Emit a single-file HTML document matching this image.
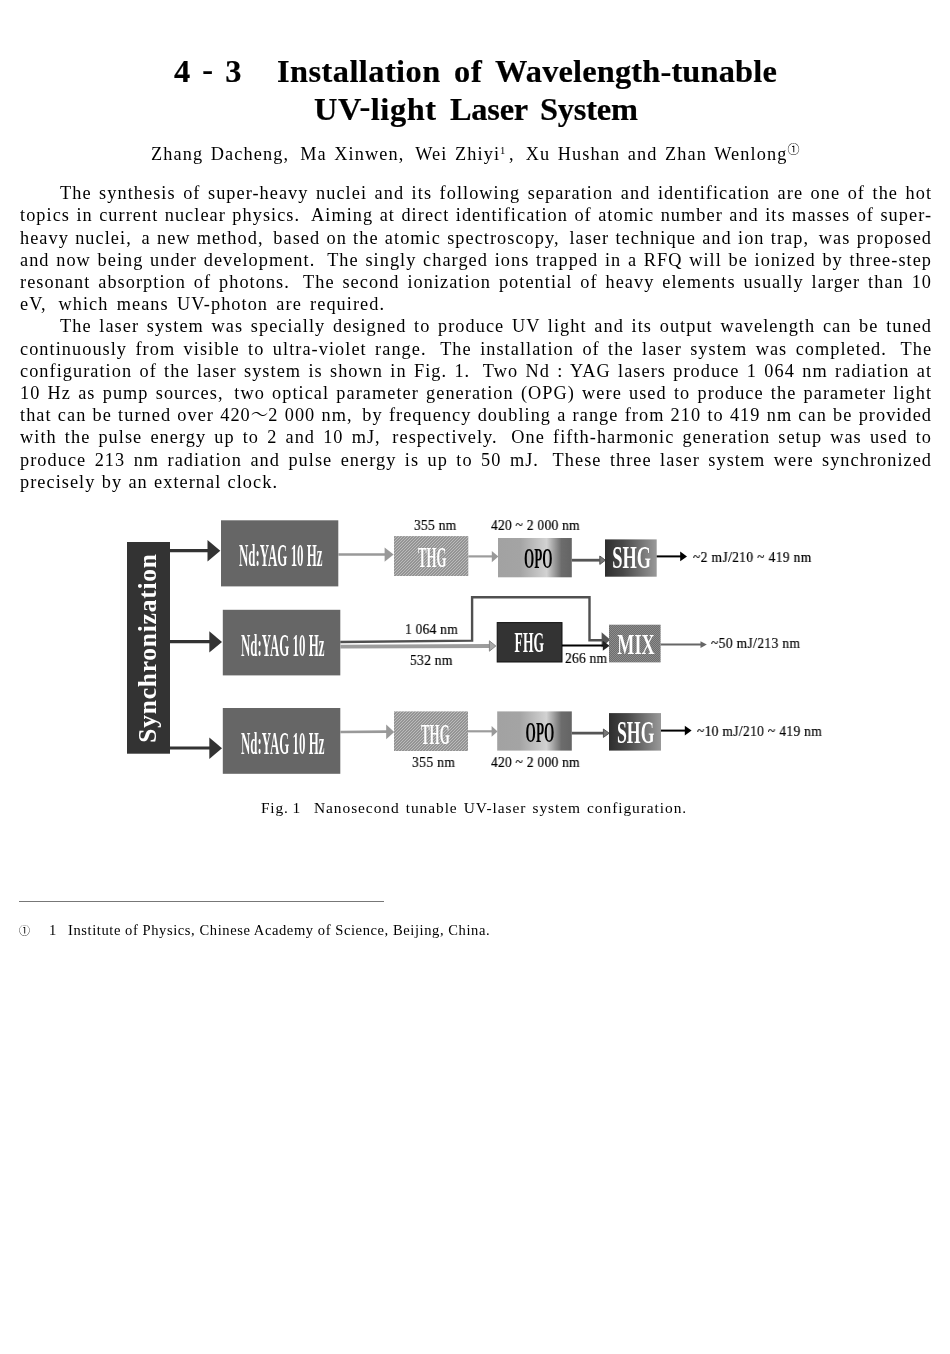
<!DOCTYPE html>
<html lang="en"><head><meta charset="utf-8"><title>Installation of Wavelength-tunable UV-light Laser System</title>
<style>
html,body{margin:0;padding:0;background:#fff;}
body{width:950px;height:1354px;position:relative;overflow:hidden;font-family:"Liberation Serif", "Noto Serif CJK SC", serif;color:#000;}
h1,p,figure,figcaption,footer,article{margin:0;padding:0;font-size:inherit;font-weight:inherit;display:block;}
.l{display:block;position:absolute;white-space:nowrap;line-height:1;margin:0;transform-origin:0 80%;will-change:transform;}
.l sup{font-size:58%;vertical-align:baseline;position:relative;top:-0.55em;letter-spacing:0;}
.l sup.c{font-size:66%;top:-0.52em;margin-left:0;color:#000;font-family:"Noto Sans CJK SC","DejaVu Sans",sans-serif;}
.c2{font-family:"Noto Sans CJK SC","DejaVu Sans",sans-serif;font-size:76%;}
.gc{display:inline-block;width:3.5px;}
.gp{display:inline-block;width:5.5px;}
.hy{position:relative;top:-0.05em;font-weight:inherit;}
.hy2{position:relative;top:-0.08em;font-weight:inherit;}
.ft{font-family:"Noto Serif CJK SC","Noto Sans CJK SC",serif;letter-spacing:0;font-size:96%;}
.fl{-webkit-text-stroke:0.2px #000;z-index:2;}
.tt{-webkit-text-stroke:0.2px #000;}
.rule{position:absolute;left:19px;top:901px;width:365px;height:1px;background:#777;}
svg{position:absolute;left:0;top:0;will-change:transform;}
</style></head>
<body>
<article>
<h1>
<span class="l tt" style="left:173.6px;top:55.40px;font-size:32.4px;letter-spacing:0.3px;word-spacing:3.397px;font-weight:700;transform:scale(1.0,1.004);">4 <b class="hy">-</b> 3</span>
<span class="l tt" style="left:277.4px;top:55.40px;font-size:32.4px;letter-spacing:0.436px;word-spacing:0.000px;font-weight:700;transform:scale(1.0,1.004);">Installation</span>
<span class="l tt" style="left:453.8px;top:55.40px;font-size:32.4px;letter-spacing:0.816px;word-spacing:0.000px;font-weight:700;transform:scale(1.0,1.004);">of</span>
<span class="l tt" style="left:495.0px;top:55.40px;font-size:32.4px;letter-spacing:0.167px;word-spacing:0.000px;font-weight:700;transform:scale(1.0,1.004);">Wavelength-tunable</span>
<span class="l tt" style="left:314.4px;top:92.80px;font-size:32.4px;letter-spacing:0.545px;word-spacing:0.000px;font-weight:700;transform:scale(1.0,1.004);">UV<b class="hy2">-</b>light</span>
<span class="l tt" style="left:450.0px;top:92.80px;font-size:32.4px;letter-spacing:-0.243px;word-spacing:0.000px;font-weight:700;transform:scale(1.0,1.004);">Laser</span>
<span class="l tt" style="left:539.6px;top:92.80px;font-size:32.4px;letter-spacing:-0.194px;word-spacing:0.000px;font-weight:700;transform:scale(1.0,1.004);">System</span>
</h1>
<p class="authors">
<span class="l" style="left:151.0px;top:145.49px;font-size:18.3px;letter-spacing:1.1px;word-spacing:1.883px;font-weight:400;transform:scale(1.0,1.03);">Zhang Dacheng,<i class="gc"></i> Ma Xinwen,<i class="gc"></i> Wei Zhiyi<sup>1</sup><i class="gc"></i>,<i class="gc"></i> Xu Hushan and Zhan Wenlong<sup class="c">①</sup></span>
</p>
<p>
<span class="l" style="left:60px;top:184.29px;font-size:18.3px;letter-spacing:1.05px;word-spacing:1.913px;font-weight:400;transform:scale(1.0,1.03);">The synthesis of super-heavy nuclei and its following separation and identification are one of the hot</span>
<span class="l" style="left:20px;top:206.49px;font-size:18.3px;letter-spacing:1.05px;word-spacing:0.825px;font-weight:400;transform:scale(1.0,1.03);">topics in current nuclear physics.<i class="gp"></i> Aiming at direct identification of atomic number and its masses of super-</span>
<span class="l" style="left:20px;top:228.69px;font-size:18.3px;letter-spacing:1.05px;word-spacing:0.641px;font-weight:400;transform:scale(1.0,1.03);">heavy nuclei,<i class="gc"></i> a new method,<i class="gc"></i> based on the atomic spectroscopy,<i class="gc"></i> laser technique and ion trap,<i class="gc"></i> was proposed</span>
<span class="l" style="left:20px;top:250.89px;font-size:18.3px;letter-spacing:1.05px;word-spacing:1.072px;font-weight:400;transform:scale(1.0,1.03);">and now being under development.<i class="gp"></i> The singly charged ions trapped in a RFQ will be ionized by three-step</span>
<span class="l" style="left:20px;top:273.09px;font-size:18.3px;letter-spacing:1.05px;word-spacing:2.278px;font-weight:400;transform:scale(1.0,1.03);">resonant absorption of photons.<i class="gp"></i> The second ionization potential of heavy elements usually larger than 10</span>
<span class="l" style="left:20px;top:295.29px;font-size:18.3px;letter-spacing:1.05px;word-spacing:2.688px;font-weight:400;transform:scale(1.0,1.03);">eV,<i class="gc"></i> which means UV-photon are required.</span>
</p>
<p>
<span class="l" style="left:60px;top:317.49px;font-size:18.3px;letter-spacing:1.05px;word-spacing:2.083px;font-weight:400;transform:scale(1.0,1.03);">The laser system was specially designed to produce UV light and its output wavelength can be tuned</span>
<span class="l" style="left:20px;top:339.69px;font-size:18.3px;letter-spacing:1.05px;word-spacing:2.792px;font-weight:400;transform:scale(1.0,1.03);">continuously from visible to ultra-violet range.<i class="gp"></i> The installation of the laser system was completed.<i class="gp"></i> The</span>
<span class="l" style="left:20px;top:361.89px;font-size:18.3px;letter-spacing:1.05px;word-spacing:1.700px;font-weight:400;transform:scale(1.0,1.03);">configuration of the laser system is shown in Fig. 1.<i class="gp"></i> Two Nd : YAG lasers produce 1 064 nm radiation at</span>
<span class="l" style="left:20px;top:384.09px;font-size:18.3px;letter-spacing:1.05px;word-spacing:1.579px;font-weight:400;transform:scale(1.0,1.03);">10 Hz as pump sources,<i class="gc"></i> two optical parameter generation (OPG) were used to produce the parameter light</span>
<span class="l" style="left:20px;top:405.28px;font-size:18.3px;letter-spacing:1.05px;word-spacing:0.586px;font-weight:400;transform:scale(1.0,1.03);">that can be turned over 420<span class="ft">～</span>2 000 nm,<i class="gc"></i> by frequency doubling a range from 210 to 419 nm can be provided</span>
<span class="l" style="left:20px;top:428.49px;font-size:18.3px;letter-spacing:1.05px;word-spacing:2.501px;font-weight:400;transform:scale(1.0,1.03);">with the pulse energy up to 2 and 10 mJ,<i class="gc"></i> respectively.<i class="gp"></i> One fifth-harmonic generation setup was used to</span>
<span class="l" style="left:20px;top:450.69px;font-size:18.3px;letter-spacing:1.05px;word-spacing:2.812px;font-weight:400;transform:scale(1.0,1.03);">produce 213 nm radiation and pulse energy is up to 50 mJ.<i class="gp"></i> These three laser system were synchronized</span>
<span class="l" style="left:20px;top:472.89px;font-size:18.3px;letter-spacing:1.05px;word-spacing:0.665px;font-weight:400;transform:scale(1.0,1.03);">precisely by an external clock.</span>
</p>
<figure>
<svg width="950" height="1354" viewBox="0 0 950 1354">
<defs>
<pattern id="hatch" width="3" height="3" patternUnits="userSpaceOnUse">
<rect width="3" height="3" fill="#949494"/>
<path d="M-1 1L1 -1M0 3L3 0M2 4L4 2" stroke="#c2c2c2" stroke-width="0.85"/>
</pattern>
<pattern id="dots" width="2" height="2" patternUnits="userSpaceOnUse">
<rect width="2" height="2" fill="#6e6e6e"/>
<rect width="1" height="1" fill="#8c8c8c"/><rect x="1" y="1" width="1" height="1" fill="#8c8c8c"/>
</pattern>
<linearGradient id="gopo" x1="0" x2="1" y1="0" y2="0">
<stop offset="0" stop-color="#a2a2a2"/><stop offset="0.3" stop-color="#a4a4a4"/><stop offset="0.66" stop-color="#d2d2d2"/><stop offset="0.86" stop-color="#6c6c6c"/><stop offset="1" stop-color="#646464"/>
</linearGradient>
<linearGradient id="gshg" x1="0" x2="1" y1="0" y2="0">
<stop offset="0" stop-color="#2e2e2e"/><stop offset="0.35" stop-color="#484848"/><stop offset="1" stop-color="#999"/>
</linearGradient>
</defs>
<rect x="127.0" y="542.0" width="43.0" height="211.7" fill="#333"/>
<text transform="translate(155.8 742.7) rotate(-90)" font-family='"Liberation Serif", serif' font-size="25.5" font-weight="700" fill="#fff" textLength="188.7" lengthAdjust="spacing">Synchronization</text>
<path d="M170.0 550.6L208.5 550.6" fill="none" stroke="#333" stroke-width="3.2"/>
<polygon points="207.5,540.1 220.3,550.8 207.5,561.5" fill="#333"/>
<path d="M170.0 641.7L210.3 641.7" fill="none" stroke="#333" stroke-width="3.2"/>
<polygon points="209.3,631.2 222.0,641.9 209.3,652.6" fill="#333"/>
<path d="M170.0 748.0L210.3 748.0" fill="none" stroke="#333" stroke-width="3.2"/>
<polygon points="209.3,737.5 222.0,748.2 209.3,758.9" fill="#333"/>
<rect x="221.0" y="520.3" width="117.3" height="66.1" fill="#666"/>
<rect x="222.8" y="609.8" width="117.5" height="65.6" fill="#666"/>
<rect x="222.8" y="708.0" width="117.5" height="65.8" fill="#666"/>
<text x="239.0" y="566.2" font-family='"Liberation Serif", serif' font-size="32" font-weight="700" fill="#fff" textLength="83.6" lengthAdjust="spacingAndGlyphs" style="filter:drop-shadow(0.8px 0.6px 0 #3a3a3a)">Nd:YAG 10 Hz</text>
<text x="241.0" y="656.0" font-family='"Liberation Serif", serif' font-size="32" font-weight="700" fill="#fff" textLength="83.5" lengthAdjust="spacingAndGlyphs" style="filter:drop-shadow(0.8px 0.6px 0 #3a3a3a)">Nd:YAG 10 Hz</text>
<text x="241.0" y="753.6" font-family='"Liberation Serif", serif' font-size="32" font-weight="700" fill="#fff" textLength="83.5" lengthAdjust="spacingAndGlyphs" style="filter:drop-shadow(0.8px 0.6px 0 #3a3a3a)">Nd:YAG 10 Hz</text>
<path d="M338.3 554.5L386.0 554.5" fill="none" stroke="#999" stroke-width="2.7"/>
<polygon points="384.6,547.4 393.6,554.6 384.6,561.8" fill="#999"/>
<rect x="394.0" y="536.1" width="74.3" height="39.9" fill="url(#hatch)"/>
<text x="418.0" y="566.5" font-family='"Liberation Serif", serif' font-size="30" font-weight="700" fill="#fff" textLength="28.5" lengthAdjust="spacingAndGlyphs" style="filter:drop-shadow(0.8px 0.6px 0 #999)">THG</text>
<path d="M468.3 556.4L493.0 556.4" fill="none" stroke="#9c9c9c" stroke-width="2.2"/>
<polygon points="491.8,551.0 498.4,556.6 491.8,562.2" fill="#999"/>
<rect x="498.0" y="538.0" width="73.8" height="39.3" fill="url(#gopo)"/>
<text x="524.0" y="567.8" font-family='"Liberation Serif", serif' font-size="29.5" font-weight="700" fill="#000" textLength="28.5" lengthAdjust="spacingAndGlyphs">OPO</text>
<path d="M571.8 560.2L601.0 560.2" fill="none" stroke="#555" stroke-width="2.8"/>
<polygon points="599.8,556.0 605.4,560.2 599.8,564.4" fill="#777" stroke="#555" stroke-width="1" stroke-linejoin="miter"/>
<rect x="605.0" y="539.4" width="51.7" height="37.3" fill="url(#gshg)"/>
<text x="612.2" y="567.8" font-family='"Liberation Serif", serif' font-size="30.5" font-weight="700" fill="#fff" textLength="38.8" lengthAdjust="spacingAndGlyphs" style="filter:drop-shadow(0.8px 0.6px 0 #444)">SHG</text>
<path d="M656.7 556.4L681.0 556.4" fill="none" stroke="#000" stroke-width="2"/>
<polygon points="680.2,551.6 687.0,556.4 680.2,561.2" fill="#000"/>
<path d="M340.3 642.0L472.1 640.6L472.1 597.2L589.5 597.2L589.5 640.2L603.0 640.2" fill="none" stroke="#505050" stroke-width="2.4"/>
<path d="M340.3 646.6L490.0 646.0" fill="none" stroke="#9c9c9c" stroke-width="3.8"/>
<polygon points="489.4,640.8 495.8,646.0 489.4,651.2" fill="#aaa" stroke="#888" stroke-width="1" stroke-linejoin="miter"/>
<rect x="497.2" y="622.6" width="64.8" height="39.4" fill="#333" stroke="#111" stroke-width="1"/>
<text x="514.6" y="652.1" font-family='"Liberation Serif", serif' font-size="29.5" font-weight="700" fill="#fff" textLength="29.4" lengthAdjust="spacingAndGlyphs">FHG</text>
<polygon points="601.6,632.2 610.3,639.8 601.6,647.4" fill="#555"/>
<path d="M562.0 645.5L604.0 645.5" fill="none" stroke="#000" stroke-width="2.2"/>
<polygon points="602.8,640.7 609.6,645.7 602.8,650.7" fill="#222"/>
<rect x="609.0" y="624.7" width="51.6" height="37.7" fill="url(#dots)"/>
<text x="617.3" y="653.5" font-family='"Liberation Serif", serif' font-size="30" font-weight="700" fill="#fff" textLength="37.2" lengthAdjust="spacingAndGlyphs" style="filter:drop-shadow(0.8px 0.6px 0 #555)">MIX</text>
<path d="M660.6 644.6L702.0 644.6" fill="none" stroke="#666" stroke-width="2"/>
<polygon points="700.5,641.2 706.8,644.6 700.5,648.0" fill="#666"/>
<path d="M340.3 732.0L388.0 731.6" fill="none" stroke="#999" stroke-width="2.7"/>
<polygon points="386.2,724.6 394.2,731.9 386.2,739.2" fill="#999"/>
<rect x="394.0" y="711.4" width="74.0" height="39.6" fill="url(#hatch)"/>
<text x="421.0" y="743.6" font-family='"Liberation Serif", serif' font-size="30" font-weight="700" fill="#fff" textLength="28.7" lengthAdjust="spacingAndGlyphs" style="filter:drop-shadow(0.8px 0.6px 0 #999)">THG</text>
<path d="M468.0 731.3L493.0 731.3" fill="none" stroke="#9c9c9c" stroke-width="2.2"/>
<polygon points="491.6,726.0 497.6,731.4 491.6,736.8" fill="#999"/>
<rect x="497.2" y="711.4" width="74.6" height="39.2" fill="url(#gopo)"/>
<text x="525.6" y="741.5" font-family='"Liberation Serif", serif' font-size="29.5" font-weight="700" fill="#000" textLength="28.8" lengthAdjust="spacingAndGlyphs">OPO</text>
<path d="M571.8 733.2L604.0 733.2" fill="none" stroke="#555" stroke-width="2.8"/>
<polygon points="603.4,729.0 609.2,733.2 603.4,737.4" fill="#777" stroke="#555" stroke-width="1" stroke-linejoin="miter"/>
<rect x="609.0" y="713.1" width="52.0" height="37.5" fill="url(#gshg)"/>
<text x="617.0" y="742.7" font-family='"Liberation Serif", serif' font-size="30.5" font-weight="700" fill="#fff" textLength="37.5" lengthAdjust="spacingAndGlyphs" style="filter:drop-shadow(0.8px 0.6px 0 #444)">SHG</text>
<path d="M661.0 730.6L686.0 730.6" fill="none" stroke="#000" stroke-width="2"/>
<polygon points="684.8,725.8 691.6,730.6 684.8,735.4" fill="#000"/>
</svg>
<span class="l fl" style="left:413.6px;top:517.90px;font-size:15.0px;letter-spacing:0.293px;word-spacing:0.000px;font-weight:400;transform:scale(0.9,1.0);">355 nm</span>
<span class="l fl" style="left:490.6px;top:518.40px;font-size:15.0px;letter-spacing:0.281px;word-spacing:0.000px;font-weight:400;transform:scale(0.9,1.0);">420 ~ 2 000 nm</span>
<span class="l fl" style="left:693.3000000000001px;top:549.60px;font-size:15.0px;letter-spacing:0.404px;word-spacing:0.000px;font-weight:400;transform:scale(0.9,1.0);">~2 mJ/210 ~ 419 nm</span>
<span class="l fl" style="left:405.0px;top:622.00px;font-size:15.0px;letter-spacing:0.269px;word-spacing:0.000px;font-weight:400;transform:scale(0.9,1.0);">1 064 nm</span>
<span class="l fl" style="left:409.6px;top:652.90px;font-size:15.0px;letter-spacing:0.338px;word-spacing:0.000px;font-weight:400;transform:scale(0.9,1.0);">532 nm</span>
<span class="l fl" style="left:565.4px;top:651.00px;font-size:15.0px;letter-spacing:0.227px;word-spacing:0.000px;font-weight:400;transform:scale(0.9,1.0);">266 nm</span>
<span class="l fl" style="left:711.3000000000001px;top:636.00px;font-size:15.0px;letter-spacing:0.41px;word-spacing:0.000px;font-weight:400;transform:scale(0.9,1.0);">~50 mJ/213 nm</span>
<span class="l fl" style="left:411.6px;top:755.20px;font-size:15.0px;letter-spacing:0.449px;word-spacing:0.000px;font-weight:400;transform:scale(0.9,1.0);">355 nm</span>
<span class="l fl" style="left:490.6px;top:755.20px;font-size:15.0px;letter-spacing:0.281px;word-spacing:0.000px;font-weight:400;transform:scale(0.9,1.0);">420 ~ 2 000 nm</span>
<span class="l fl" style="left:697.0px;top:723.60px;font-size:15.0px;letter-spacing:0.366px;word-spacing:0.000px;font-weight:400;transform:scale(0.9,1.0);">~10 mJ/210 ~ 419 nm</span>
<figcaption>
<span class="l" style="left:260.6px;top:799.99px;font-size:15.4px;letter-spacing:0.8px;word-spacing:-0.734px;font-weight:400;transform:scale(1.0,1.01);">Fig. 1</span>
<span class="l" style="left:314px;top:799.99px;font-size:15.4px;letter-spacing:0.95px;word-spacing:1.330px;font-weight:400;transform:scale(1.0,1.01);">Nanosecond tunable UV-laser system configuration.</span>
</figcaption>
</figure>
<footer>
<div class="rule"></div>
<p class="fn">
<span class="l" style="left:18.8px;top:922.60px;font-size:14.5px;letter-spacing:0px;word-spacing:0.000px;font-weight:400;transform:scale(1.0,1.004);"><span class="c2">①</span></span>
<span class="l" style="left:49.3px;top:923.80px;font-size:13.6px;letter-spacing:0px;word-spacing:0.000px;font-weight:400;transform:scale(1.07,1);">1</span>
<span class="l" style="left:67.9px;top:923.80px;font-size:13.6px;letter-spacing:0.55px;word-spacing:-0.075px;font-weight:400;transform:scale(1.07,1);">Institute of Physics, Chinese Academy of Science, Beijing, China.</span>
</p>
</footer>
</article>
</body></html>
